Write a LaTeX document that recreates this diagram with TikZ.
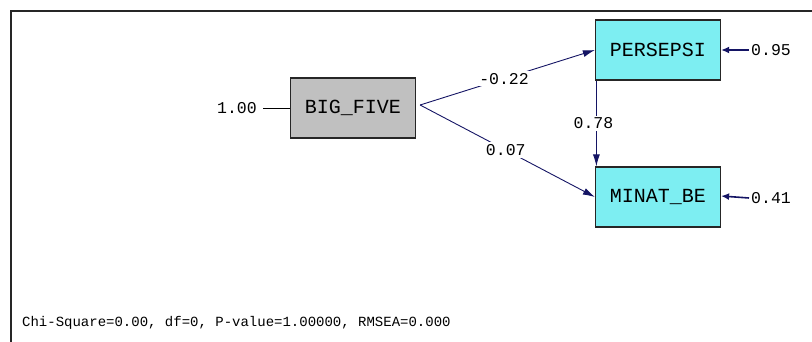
\documentclass[tikz,border=0pt]{standalone}
\usepackage{fontspec}
\setmonofont{Liberation Mono}
\usetikzlibrary{arrows.meta}
\definecolor{navy}{RGB}{20,20,100}
\definecolor{boxcyan}{RGB}{125,238,242}
\definecolor{boxgray}{RGB}{192,192,192}
\begin{document}
\begin{tikzpicture}[x=1pt,y=-1pt,
  var/.style={draw=black!85,line width=1.2pt,minimum width=125pt,minimum height=60pt,inner sep=0pt,font=\ttfamily\fontsize{20}{20}\selectfont},
  elab/.style={fill=white,inner sep=2pt,font=\ttfamily\fontsize{16.5}{16.5}\selectfont},
  plab/.style={inner sep=2pt,font=\ttfamily\fontsize{16.5}{16.5}\selectfont},
  pathline/.style={draw=navy,line width=0.9pt,-{Latex[length=12pt,width=7pt]}},
  errline/.style={draw=navy,line width=1.6pt,-{Latex[length=8pt,width=7pt]}}]
\useasboundingbox (0,0) rectangle (812,342);
\draw[line width=1.5pt,black!85] (11,342) -- (11,11) -- (812,11);

\node[var,fill=boxgray] (bf) at (353,108) {BIG\_FIVE};
\node[var,fill=boxcyan] (pe) at (658,50) {PERSEPSI};
\node[var,fill=boxcyan] (mb) at (658,197) {MINAT\_BE};

\node[plab] (v) at (237,108) {1.00};
\draw[black,line width=0.8pt] ([xshift=4pt]v.east) -- (bf.west);

\coordinate (s) at ([xshift=4pt,yshift=3pt]bf.east);
\draw[pathline] (s) -- node[elab,pos=0.48] {-0.22} (pe.west);
\draw[pathline] (s) -- node[elab,pos=0.49] {0.07} (mb.west);
\draw[pathline] ([xshift=1.5pt]pe.south west) -- node[elab,pos=0.5,xshift=-3pt] {0.78} ([xshift=1.5pt]mb.north west);

\coordinate (e1) at (749,50);
\coordinate (e2) at (749,198);
\draw[errline] (e1) -- (pe.east);
\draw[errline] (e2) -- ([yshift=1pt]mb.east);
\node[plab,anchor=west] (l1) at (e1) {0.95};
\node[plab,anchor=west] (l2) at (e2) {0.41};

\node[anchor=west,inner sep=0pt,font=\ttfamily\fontsize{14}{14}\selectfont] (ft) at (22,323) {Chi-Square=0.00, df=0, P-value=1.00000, RMSEA=0.000};
\end{tikzpicture}
\end{document}
